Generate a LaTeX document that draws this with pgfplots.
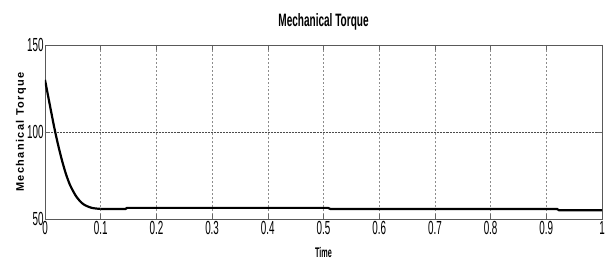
\documentclass[border=0pt]{standalone}
\usepackage{fontspec}
\setmainfont{Liberation Sans}
\newfontfamily\narrowfont{Liberation Sans}[FakeStretch=0.52]
\newfontfamily\titlefont{Liberation Sans}[FakeStretch=0.56]
\newfontfamily\ylabfont{Liberation Sans}[LetterSpace=13]
\usepackage{pgfplots}
\pgfplotsset{compat=1.18}
\begin{document}
\begin{tikzpicture}
\begin{axis}[
  scale only axis,
  width=557bp, height=174bp,
  xmin=0, xmax=1, ymin=50, ymax=150,
  xtick={0,0.1,...,1.0},
  xticklabels={0,0.1,0.2,0.3,0.4,0.5,0.6,0.7,0.8,0.9,1},
  ytick={50,100,150},
  extra y ticks={100}, extra y tick labels={},
  extra y tick style={grid=major, major grid style={densely dotted, black!70, line width=0.6pt}},
  xmajorgrids, major grid style={dashed, dash pattern=on 2pt off 2pt, black!45, line width=0.5pt},
  tick align=inside, major tick length=5bp,
  tick style={black!60, line width=0.6pt},
  axis line style={black!65, line width=0.8pt},
  /pgf/number format/assume math mode=true,
  ticklabel style={font=\narrowfont\fontsize{19}{19}\selectfont},
  xticklabel style={yshift=1bp},
  yticklabel style={xshift=2bp},
  title={\titlefont\fontsize{18}{18}\selectfont\bfseries Mechanical Torque},
  title style={yshift=5bp},
  xlabel={\narrowfont\fontsize{14}{14}\selectfont\bfseries Time},
  xlabel style={yshift=-6bp},
  ylabel={\ylabfont\fontsize{11}{11}\selectfont\bfseries Mechanical Torque},
  ylabel style={yshift=-6bp},
]
\coordinate (O) at (rel axis cs:0,0);
\addplot[black, line width=2.2pt, line join=round, smooth, tension=0.5] coordinates {
(0,130) (0.009,115) (0.018,100.5) (0.027,88) (0.036,77.5) (0.045,69.5)
(0.057,62.5) (0.069,58.5) (0.084,56.4) (0.1,55.8)
};
\addplot[black, line width=2.2pt, line join=round] coordinates {
(0.1,55.8)
(0.145,55.8) (0.147,56.4) (0.508,56.4) (0.512,55.8) (0.919,55.8) (0.923,55.0) (1,55.0)
};
\end{axis}
\path (O) ++(-45bp,-43bp) rectangle ++(612bp,262bp);
\end{tikzpicture}
\end{document}
